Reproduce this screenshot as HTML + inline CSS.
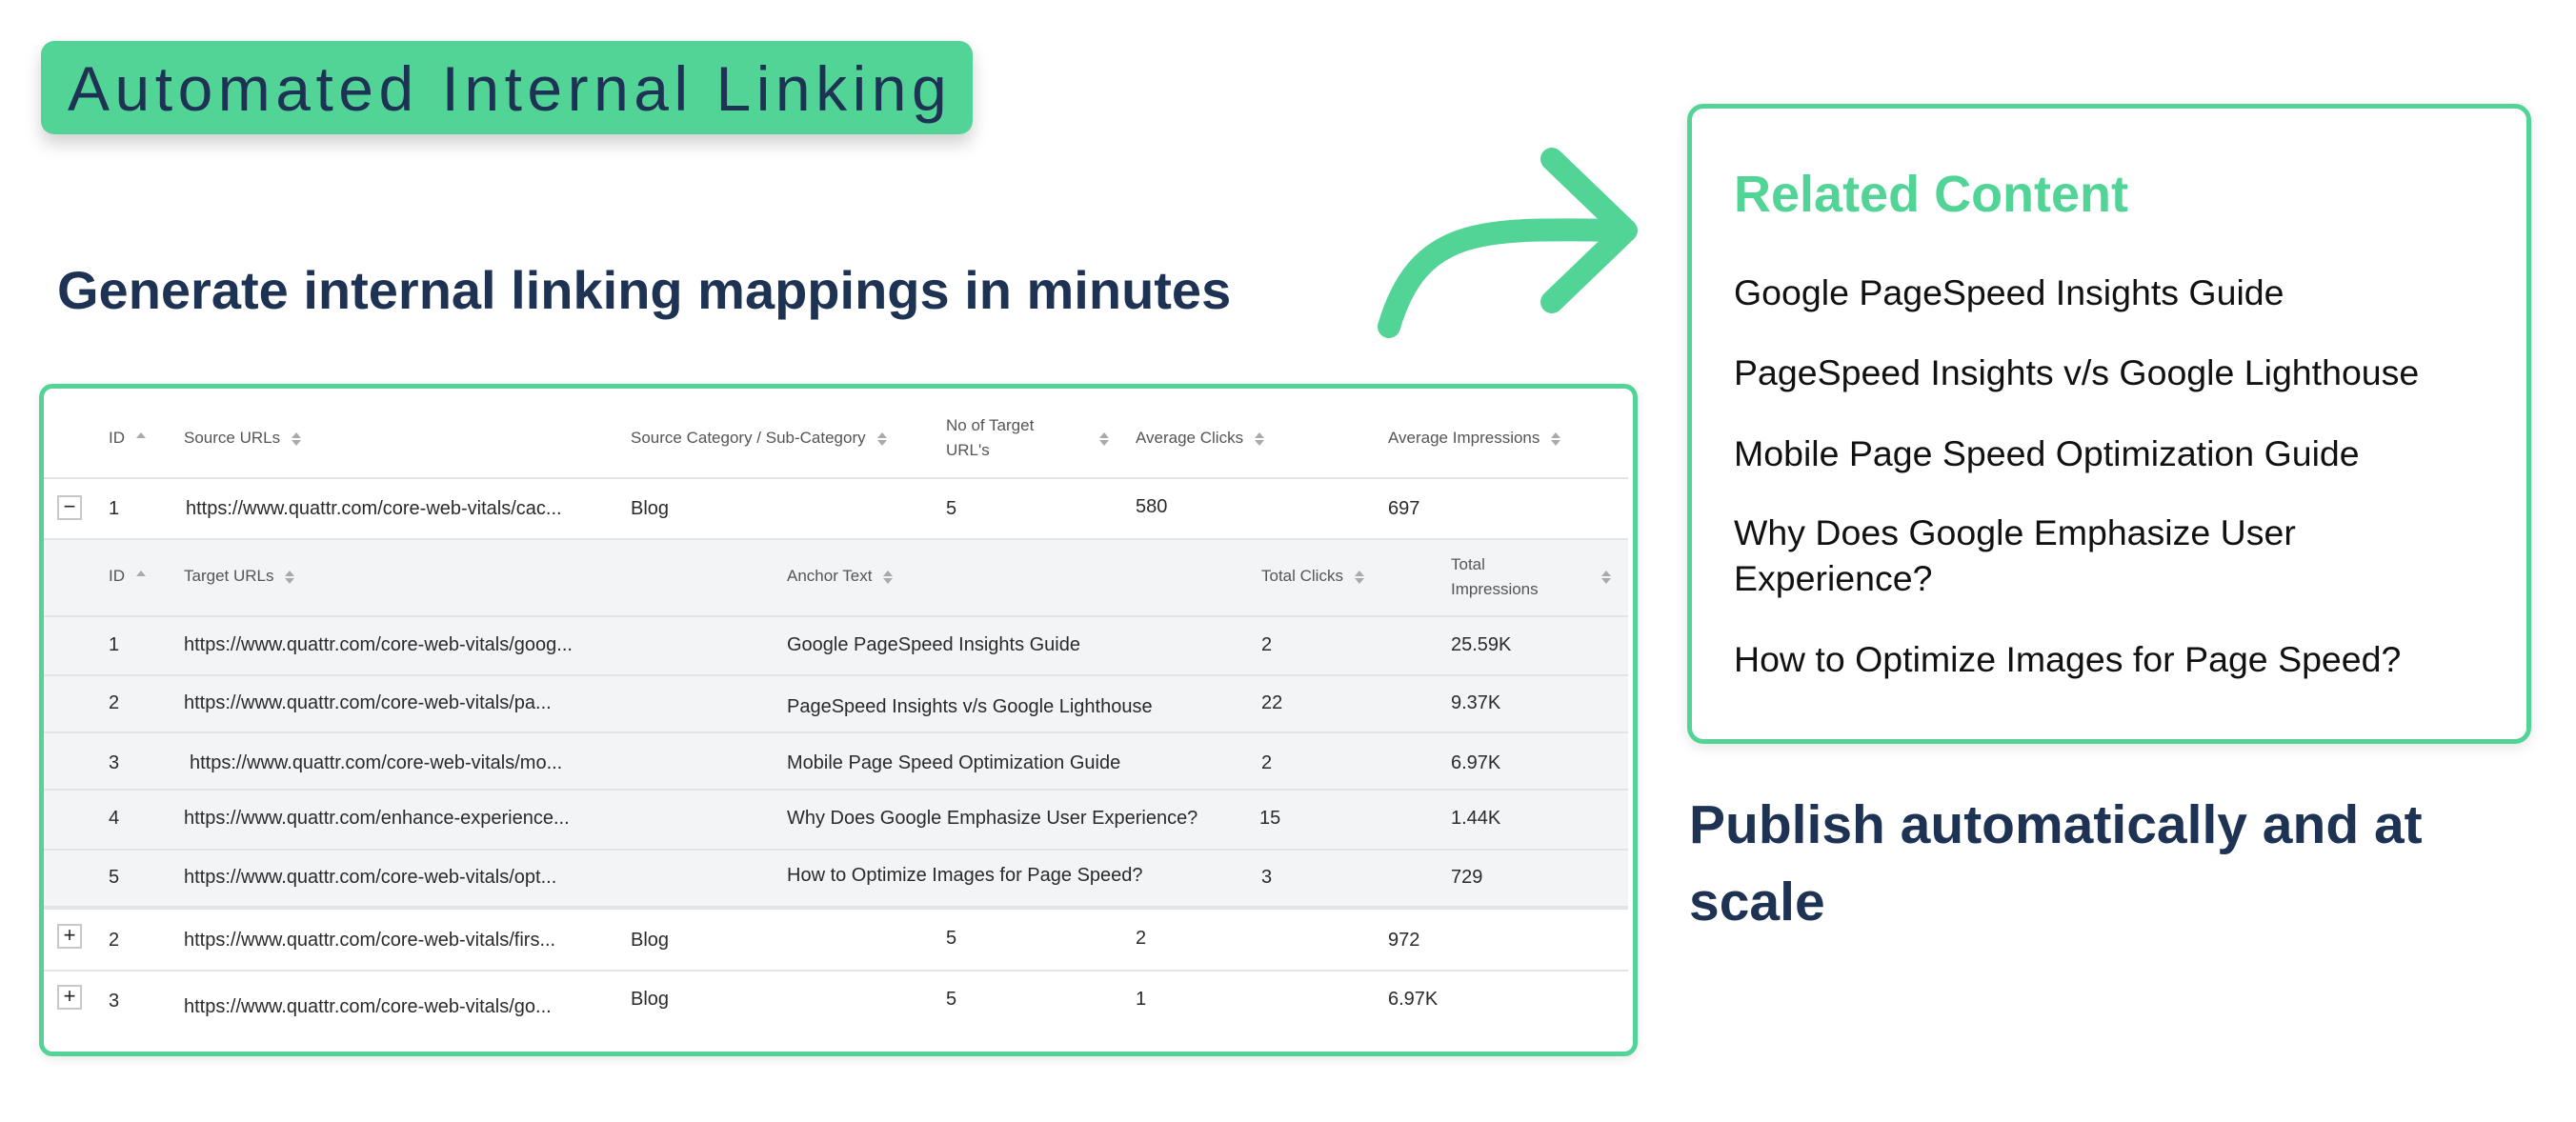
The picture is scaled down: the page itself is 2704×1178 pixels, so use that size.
<!DOCTYPE html>
<html><head><meta charset="utf-8">
<style>
*{margin:0;padding:0;box-sizing:border-box}
body{width:2704px;height:1178px;background:#fff;position:relative;overflow:hidden;font-family:"Liberation Sans",sans-serif}
.abs{position:absolute;white-space:nowrap}
.badge{left:43px;top:43px;width:978px;height:98px;background:#52d497;border-radius:14px;box-shadow:0 10px 18px rgba(0,0,0,0.18)}
.badge span{position:absolute;left:28px;top:10px;font-size:66px;color:#1e3354;letter-spacing:5.5px;line-height:80px}
.h2{font-weight:bold;color:#1e3354;font-size:57px}
.tbl{left:41px;top:403px;width:1678px;height:706px;border:5px solid #52d497;border-radius:14px;box-shadow:0 4px 10px rgba(0,0,0,0.08)}
.gray{left:46px;top:566px;width:1663px;height:388px;background:#f3f4f6}
.ln{position:absolute;left:46px;width:1663px;height:2px;background:#e2e4e6}
.th{font-size:17px;color:#555;line-height:26px}
.td{font-size:20px;color:#2a2a2a}
.s{display:inline-block;vertical-align:middle;margin-left:12px;width:10px;height:18px;position:relative}
.s:before{content:"";position:absolute;left:0;top:2px;border-left:5px solid transparent;border-right:5px solid transparent;border-bottom:6px solid #aaa}
.s:after{content:"";position:absolute;left:0;top:10px;border-left:5px solid transparent;border-right:5px solid transparent;border-top:6px solid #aaa}
.u:after{display:none}
.tg{position:absolute;left:60px;width:26px;height:26px;border:2px solid #c8c8c8;background:#fff;font-size:22px;line-height:20px;text-align:center;color:#222}
.rc{left:1771px;top:109px;width:886px;height:672px;border:5px solid #52d497;border-radius:17px;box-shadow:0 4px 14px rgba(0,0,0,0.1)}
.it{font-size:37.5px;color:#111}
</style></head><body>
<div class="abs badge"><span>Automated Internal Linking</span></div>
<div class="abs h2" style="left:60px;top:270px;line-height:70px;font-size:56px">Generate internal linking mappings in minutes</div>

<svg class="abs" style="left:0;top:0" width="2704" height="1178">
<path d="M1458 343 C1490 235 1560 240 1700 242" fill="none" stroke="#52d497" stroke-width="24" stroke-linecap="round"/>
<polyline points="1629,167 1707,242 1629,317" fill="none" stroke="#52d497" stroke-width="24" stroke-linecap="round" stroke-linejoin="round"/>
</svg>

<div class="abs tbl"></div>
<div class="abs gray"></div>
<div class="ln" style="top:501px"></div>
<div class="ln" style="top:565px"></div>
<div class="ln" style="top:646px"></div>
<div class="ln" style="top:708px"></div>
<div class="ln" style="top:768px"></div>
<div class="ln" style="top:828px"></div>
<div class="ln" style="top:891px"></div>
<div class="ln" style="top:951px;height:4px"></div>
<div class="ln" style="top:1018px"></div>

<div class="abs th" style="left:114px;top:447px">ID<span class="s u"></span></div>
<div class="abs th" style="left:193px;top:447px">Source URLs<span class="s"></span></div>
<div class="abs th" style="left:662px;top:447px">Source Category / Sub-Category<span class="s"></span></div>
<div class="abs th" style="left:993px;top:434px">No of Target<br>URL's</div>
<div class="abs th" style="left:1142px;top:447px"><span class="s"></span></div>
<div class="abs th" style="left:1192px;top:447px">Average Clicks<span class="s"></span></div>
<div class="abs th" style="left:1457px;top:447px">Average Impressions<span class="s"></span></div>

<div class="tg" style="top:520px">−</div>
<div class="abs td" style="left:114px;top:523px">1</div>
<div class="abs td" style="left:195px;top:523px">https://www.quattr.com/core-web-vitals/cac...</div>
<div class="abs td" style="left:662px;top:523px">Blog</div>
<div class="abs td" style="left:993px;top:523px">5</div>
<div class="abs td" style="left:1192px;top:521px">580</div>
<div class="abs td" style="left:1457px;top:523px">697</div>

<div class="abs th" style="left:114px;top:592px">ID<span class="s u"></span></div>
<div class="abs th" style="left:193px;top:592px">Target URLs<span class="s"></span></div>
<div class="abs th" style="left:826px;top:592px">Anchor Text<span class="s"></span></div>
<div class="abs th" style="left:1324px;top:592px">Total Clicks<span class="s"></span></div>
<div class="abs th" style="left:1523px;top:580px">Total<br>Impressions</div>
<div class="abs th" style="left:1669px;top:592px"><span class="s"></span></div>

<div class="abs td" style="left:114px;top:666px">1</div>
<div class="abs td" style="left:193px;top:666px">https://www.quattr.com/core-web-vitals/goog...</div>
<div class="abs td" style="left:826px;top:666px">Google PageSpeed Insights Guide</div>
<div class="abs td" style="left:1324px;top:666px">2</div>
<div class="abs td" style="left:1523px;top:666px">25.59K</div>

<div class="abs td" style="left:114px;top:727px">2</div>
<div class="abs td" style="left:193px;top:727px">https://www.quattr.com/core-web-vitals/pa...</div>
<div class="abs td" style="left:826px;top:731px">PageSpeed Insights v/s Google Lighthouse</div>
<div class="abs td" style="left:1324px;top:727px">22</div>
<div class="abs td" style="left:1523px;top:727px">9.37K</div>

<div class="abs td" style="left:114px;top:790px">3</div>
<div class="abs td" style="left:199px;top:790px">https://www.quattr.com/core-web-vitals/mo...</div>
<div class="abs td" style="left:826px;top:790px">Mobile Page Speed Optimization Guide</div>
<div class="abs td" style="left:1324px;top:790px">2</div>
<div class="abs td" style="left:1523px;top:790px">6.97K</div>

<div class="abs td" style="left:114px;top:848px">4</div>
<div class="abs td" style="left:193px;top:848px">https://www.quattr.com/enhance-experience...</div>
<div class="abs td" style="left:826px;top:848px">Why Does Google Emphasize User Experience?</div>
<div class="abs td" style="left:1322px;top:848px">15</div>
<div class="abs td" style="left:1523px;top:848px">1.44K</div>

<div class="abs td" style="left:114px;top:910px">5</div>
<div class="abs td" style="left:193px;top:910px">https://www.quattr.com/core-web-vitals/opt...</div>
<div class="abs td" style="left:826px;top:908px">How to Optimize Images for Page Speed?</div>
<div class="abs td" style="left:1324px;top:910px">3</div>
<div class="abs td" style="left:1523px;top:910px">729</div>

<div class="tg" style="top:970px">+</div>
<div class="abs td" style="left:114px;top:976px">2</div>
<div class="abs td" style="left:193px;top:976px">https://www.quattr.com/core-web-vitals/firs...</div>
<div class="abs td" style="left:662px;top:976px">Blog</div>
<div class="abs td" style="left:993px;top:974px">5</div>
<div class="abs td" style="left:1192px;top:974px">2</div>
<div class="abs td" style="left:1457px;top:976px">972</div>

<div class="tg" style="top:1034px">+</div>
<div class="abs td" style="left:114px;top:1040px">3</div>
<div class="abs td" style="left:193px;top:1046px">https://www.quattr.com/core-web-vitals/go...</div>
<div class="abs td" style="left:662px;top:1038px">Blog</div>
<div class="abs td" style="left:993px;top:1038px">5</div>
<div class="abs td" style="left:1192px;top:1038px">1</div>
<div class="abs td" style="left:1457px;top:1038px">6.97K</div>

<div class="abs rc"></div>
<div class="abs" style="left:1820px;top:173px;font-size:54px;font-weight:bold;color:#52d497">Related Content</div>
<div class="abs it" style="left:1820px;top:286px">Google PageSpeed Insights Guide</div>
<div class="abs it" style="left:1820px;top:370px">PageSpeed Insights v/s Google Lighthouse</div>
<div class="abs it" style="left:1820px;top:455px">Mobile Page Speed Optimization Guide</div>
<div class="abs it" style="left:1820px;top:535px;line-height:48px">Why Does Google Emphasize User<br>Experience?</div>
<div class="abs it" style="left:1820px;top:671px">How to Optimize Images for Page Speed?</div>

<div class="abs h2" style="left:1773px;top:826px;line-height:81px">Publish automatically and at<br>scale</div>
</body></html>
